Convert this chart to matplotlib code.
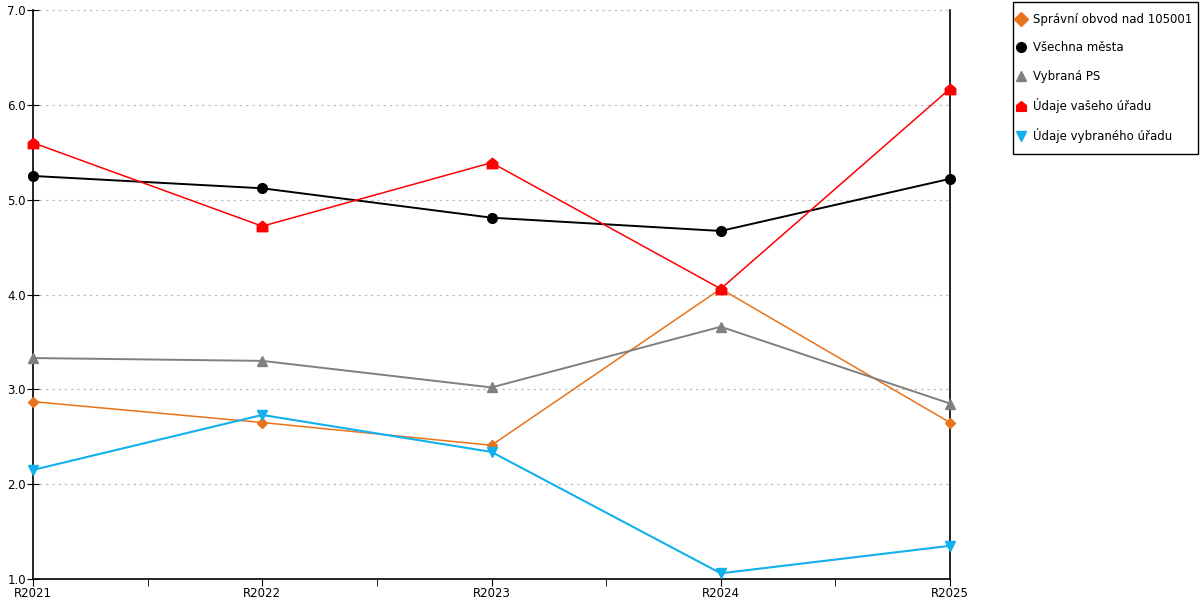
import matplotlib.pyplot as plt
from matplotlib.ticker import MultipleLocator, FormatStrFormatter
from matplotlib.path import Path
from matplotlib.patches import Rectangle

years = ['R2021', 'R2022', 'R2023', 'R2024', 'R2025']

spravni_obvod = [2.87, 2.65, 2.41, 4.06, 2.65]
vsechna_mesta = [5.25, 5.12, 4.81, 4.67, 5.22]
vybrana_ps = [3.33, 3.30, 3.02, 3.66, 2.85]
vaseho_uradu = [5.60, 4.72, 5.39, 4.06, 6.17]
vybraneho_uradu = [2.15, 2.73, 2.34, 1.06, 1.35]

# house shaped marker for "Údaje vašeho úřadu"
house = Path([(-1, -1), (1, -1), (1, 0.2), (0, 1), (-1, 0.2), (-1, -1)],
             [Path.MOVETO, Path.LINETO, Path.LINETO, Path.LINETO, Path.LINETO, Path.CLOSEPOLY])

series = [
    ('Správní obvod nad 105001', spravni_obvod, '#e8731a', 'D', 5, 1.1),
    ('Všechna města', vsechna_mesta, '#000000', 'o', 7, 1.4),
    ('Vybraná PS', vybrana_ps, '#808080', '^', 7, 1.4),
    ('Údaje vašeho úřadu', vaseho_uradu, '#ff0000', house, 7.5, 1.1),
    ('Údaje vybraného úřadu', vybraneho_uradu, '#12b0ec', 'v', 7, 1.5),
]

plt.rcParams['font.family'] = ['DejaVu Sans']

fig = plt.figure(figsize=(12, 6), dpi=100)
ax = fig.add_axes([33 / 1200, 21 / 600, 917 / 1200, 569 / 600])

x = list(range(len(years)))
handles = []
for name, vals, color, marker, ms, lw in series:
    h, = ax.plot(x, vals, color=color, marker=marker, markersize=ms, linewidth=lw,
                 label=name, clip_on=False, zorder=3)
    handles.append(h)

ax.set_xlim(0, len(years) - 1)
ax.set_ylim(1.0, 7.0)
ax.set_xticks(x)
ax.set_xticklabels(years)
ax.xaxis.set_minor_locator(MultipleLocator(0.5))
ax.yaxis.set_major_locator(MultipleLocator(1.0))
ax.yaxis.set_major_formatter(FormatStrFormatter('%.1f'))
ax.tick_params(axis='x', which='major', direction='out', length=5, labelsize=8.5, pad=1)
ax.tick_params(axis='x', which='minor', direction='out', length=5)
ax.tick_params(axis='y', direction='inout', length=8, labelsize=8.5, pad=1)

ax.grid(axis='y', color='#c0c0c0', linestyle=(0, (2, 3)), linewidth=0.9)
ax.spines['top'].set_visible(False)
for s in ['left', 'right', 'bottom']:
    ax.spines[s].set_color('black')
    ax.spines[s].set_linewidth(1.2)

# legend without its own frame, box drawn separately
leg = fig.legend(handles=handles, loc='upper left', bbox_to_anchor=(1017 / 1200, 587 / 600),
                 fontsize=8.5, frameon=False,
                 handlelength=0.6, handletextpad=0.75, labelspacing=1.3,
                 borderpad=0, borderaxespad=0)
for line in leg.get_lines():
    line.set_linestyle('none')
    line.set_markersize(7)
fig.patches.append(Rectangle((1013 / 1200, 446 / 600), 185 / 1200, 152 / 600,
                             transform=fig.transFigure, fill=False,
                             edgecolor='black', linewidth=1.0))

fig.savefig('out.png', dpi=100)
